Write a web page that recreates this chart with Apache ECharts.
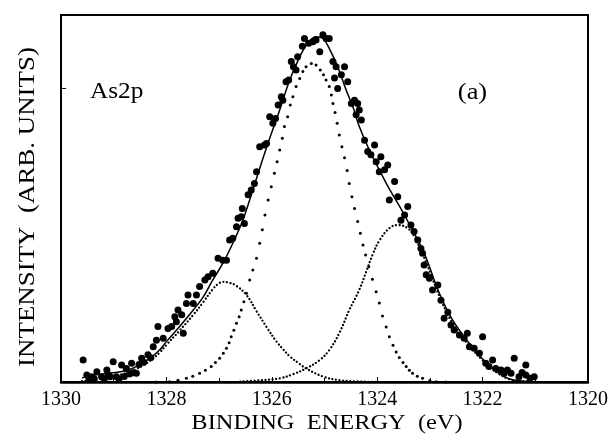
<!DOCTYPE html>
<html>
<head>
<meta charset="utf-8">
<script src="https://cdn.jsdelivr.net/npm/echarts@6/dist/echarts.min.js"></script>
<style>html,body{margin:0;padding:0;background:#fff}#c{width:611px;height:434px}</style>
</head>
<body>
<div id="c"></div>
<script>
// Binding energy axis (eV), reversed
const xTicks = [1330, 1328, 1326, 1324, 1322, 1320];
const yTickValues = [80];
const xTitle = 'BINDING  ENERGY  (eV)';
const yTitle = 'INTENSITY  (ARB. UNITS)';
const panelLabel = 'As2p';
const panelTag = '(a)';

// measured points [E, intensity]
const measuredPoints = [
[1329.58,6.0],[1329.51,1.9],[1329.47,1.0],[1329.42,1.4],[1329.37,0.9],[1329.32,2.8],[1329.23,1.4],[1329.18,0.8],
[1329.13,3.3],[1329.10,2.0],[1329.07,1.4],[1329.01,5.5],[1328.95,1.4],[1328.90,0.9],[1328.85,4.6],[1328.80,1.5],
[1328.76,3.7],[1328.70,2.2],[1328.66,5.1],[1328.64,2.5],[1328.57,2.4],[1328.52,4.8],[1328.47,6.5],[1328.43,5.4],
[1328.35,7.4],[1328.30,6.6],[1328.25,9.6],[1328.19,11.4],[1328.16,15.1],[1328.06,11.9],[1327.97,14.6],[1327.90,15.1],
[1327.84,17.8],[1327.81,16.4],[1327.78,19.6],[1327.71,18.3],[1327.68,13.3],[1327.62,21.4],[1327.59,23.7],[1327.49,21.4],
[1327.43,23.7],[1327.37,26.0],[1327.27,27.8],[1327.21,28.7],[1327.12,29.6],[1327.02,33.7],[1326.93,33.2],[1326.86,33.2],
[1326.80,38.7],[1326.74,39.2],[1326.67,42.3],[1326.64,44.6],[1326.58,45.0],[1326.56,47.3],[1326.52,43.2],[1326.45,51.0],
[1326.39,52.3],[1326.33,54.1],[1326.29,57.3],[1326.23,64.1],[1326.14,64.6],[1326.10,65.0],[1326.04,72.3],[1325.98,70.5],
[1325.93,71.8],[1325.88,75.5],[1325.82,77.7],[1325.79,76.8],[1325.73,81.8],[1325.68,82.3],[1325.63,87.3],[1325.59,85.9],
[1325.54,85.0],[1325.51,88.6],[1325.42,91.5],[1325.38,93.6],[1325.30,92.3],[1325.22,92.7],[1325.16,93.2],[1325.09,90.0],
[1325.03,94.6],[1324.97,93.6],[1324.91,93.6],[1324.84,87.3],[1324.81,82.8],[1324.78,85.9],[1324.75,80.0],[1324.68,83.7],
[1324.62,85.9],[1324.56,81.8],[1324.49,75.9],[1324.43,76.8],[1324.40,72.8],[1324.37,75.9],[1324.34,74.1],[1324.30,71.4],
[1324.24,65.9],[1324.18,62.8],[1324.12,61.9],[1324.05,64.6],[1324.02,60.0],[1323.96,57.3],[1323.93,61.4],[1323.86,57.8],
[1323.80,59.1],[1323.77,49.6],[1323.67,54.6],[1323.61,50.5],[1323.55,44.1],[1323.48,45.5],[1323.42,47.8],[1323.36,42.8],
[1323.30,41.0],[1323.23,38.7],[1323.17,36.4],[1323.14,35.1],[1323.11,31.9],[1323.07,29.2],[1323.01,28.3],[1322.95,25.1],
[1322.85,26.4],[1322.79,22.3],[1322.73,17.4],[1322.66,19.0],[1322.60,15.5],[1322.54,14.2],[1322.44,12.8],[1322.35,11.9],
[1322.29,13.3],[1322.25,9.6],[1322.16,9.2],[1322.06,7.8],[1322.00,12.3],[1321.94,5.1],[1321.88,4.2],[1321.81,6.0],
[1321.75,3.7],[1321.65,3.3],[1321.59,2.4],[1321.53,3.3],[1321.46,2.4],[1321.40,6.5],[1321.31,1.4],[1321.25,2.6],
[1321.18,4.6],[1321.18,1.9],[1321.10,1.0],[1321.02,1.4]
];

// total fit (solid line)
const fitTotal = [
[1329.6,1.1],[1329.5,1.6],[1329.2,2.2],[1328.82,2.9],[1328.57,4.2],[1328.31,6.5],[1328.13,8.7],[1328.0,11.0],
[1327.75,15.1],[1327.49,19.6],[1327.30,23.2],[1327.12,27.8],[1326.93,32.3],[1326.74,37.8],[1326.55,44.1],[1326.42,49.6],
[1326.23,58.2],[1326.04,66.4],[1325.85,74.1],[1325.66,82.3],[1325.47,88.6],[1325.32,92.3],[1325.16,94.1],[1325.03,93.6],
[1324.91,90.9],[1324.75,85.9],[1324.59,79.6],[1324.45,74.5],[1324.34,69.6],[1324.15,63.2],[1323.96,57.8],[1323.77,52.6],
[1323.58,48.0],[1323.39,43.0],[1323.17,37.0],[1323.07,33.8],[1322.82,24.2],[1322.57,16.9],[1322.25,10.5],[1322.0,6.3],
[1321.88,4.6],[1321.7,2.5],[1321.5,0.9],[1321.3,0.3],[1321.0,0.1]
];

// component near 1326.9 eV
const peakHighBE = [
[1329.6,0.2],[1329.2,1.0],[1328.82,2.2],[1328.57,3.6],[1328.31,5.8],[1328.13,8.0],[1328.0,10.1],[1327.75,14.0],
[1327.49,18.3],[1327.30,21.8],[1327.12,25.3],[1327.02,26.7],[1326.93,27.3],[1326.80,27.0],[1326.67,26.2],[1326.48,23.7],
[1326.29,19.3],[1326.10,15.0],[1325.91,11.0],[1325.79,9.0],[1325.66,7.0],[1325.47,4.9],[1325.35,3.7],[1325.03,1.5],
[1324.72,0.5],[1324.4,0.15],[1324.0,0.0]
];

// main component near 1325.25 eV (dotted)
const peakMain = [
[1328.2,0.0],[1327.94,0.1],[1327.78,0.5],[1327.62,1.0],[1327.50,1.6],[1327.37,2.4],[1327.26,3.2],[1327.15,4.2],
[1327.07,5.3],[1326.99,6.5],[1326.92,7.8],[1326.86,9.2],[1326.81,10.7],[1326.77,12.3],[1326.72,14.1],[1326.67,16.0],
[1326.62,17.8],[1326.58,19.6],[1326.53,21.9],[1326.48,24.2],[1326.42,27.8],[1326.36,30.5],[1326.29,33.7],[1326.23,37.8],
[1326.18,41.5],[1326.13,45.5],[1326.07,49.6],[1326.01,53.2],[1325.95,56.9],[1325.90,60.0],[1325.85,63.2],[1325.80,66.4],
[1325.76,69.6],[1325.70,72.3],[1325.65,75.5],[1325.60,77.7],[1325.54,80.5],[1325.47,82.7],[1325.41,84.6],[1325.35,85.9],
[1325.25,86.8],[1325.16,86.4],[1325.08,85.0],[1325.02,83.7],[1324.97,82.3],[1324.91,80.5],[1324.87,78.2],[1324.84,75.9],
[1324.80,73.4],[1324.76,70.5],[1324.72,67.3],[1324.67,64.1],[1324.62,61.1],[1324.57,57.6],[1324.53,54.1],[1324.48,50.5],
[1324.43,47.3],[1324.37,43.7],[1324.32,40.5],[1324.27,37.3],[1324.22,34.6],[1324.16,31.4],[1324.09,28.0],[1324.02,24.6],
[1323.96,21.5],[1323.90,18.0],[1323.83,15.0],[1323.77,12.3],[1323.70,10.0],[1323.64,8.2],[1323.58,6.7],[1323.51,5.3],
[1323.45,4.2],[1323.39,3.2],[1323.33,2.4],[1323.24,1.6],[1323.14,1.0],[1323.0,0.4],[1322.88,0.1],[1322.7,0.0]
];

// component near 1323.6 eV
const peakLowBE = [
[1326.6,0.1],[1326.17,0.5],[1325.85,1.0],[1325.60,2.1],[1325.35,3.7],[1325.09,6.0],[1324.91,8.7],[1324.72,13.3],
[1324.53,19.6],[1324.34,25.1],[1324.21,30.0],[1324.09,34.6],[1323.96,38.5],[1323.77,41.9],[1323.61,42.8],[1323.42,41.9],
[1323.30,39.8],[1323.17,35.8],[1323.07,32.6],[1322.82,23.4],[1322.57,16.0],[1322.25,9.8],[1322.0,5.9],[1321.88,4.2],
[1321.7,2.3],[1321.5,0.8],[1321.3,0.3],[1321.0,0.05]
];

const chart = echarts.init(document.getElementById('c'), null, {renderer: 'canvas'});
const serif = 'Liberation Serif';
const dotsLine = {color: '#000', width: 2.3, type: [0.01, 3.6], cap: 'round'};

chart.setOption({
  animation: false,
  backgroundColor: '#fff',
  grid: {left: 61, right: 22, top: 15, bottom: 52, show: true, borderColor: '#000', borderWidth: 2, backgroundColor: 'transparent'},
  xAxis: {
    type: 'value', min: 1320, max: 1330, interval: 2, inverse: true,
    axisLine: {show: true, onZero: false, lineStyle: {color: '#000', width: 2.5}},
    axisTick: {show: true, inside: true, length: 5, lineStyle: {color: '#000', width: 1}},
    minorTick: {show: true, splitNumber: 2, length: 4, lineStyle: {color: '#000', width: 1}},
    axisLabel: {color: '#000', fontFamily: serif, fontSize: 20, margin: 8, showMinLabel: true, showMaxLabel: true,
      formatter: v => xTicks.includes(v) ? String(v) : ''},
    splitLine: {show: false}
  },
  yAxis: {
    type: 'value', min: 0, max: 100, interval: 20,
    axisLine: {show: true, lineStyle: {color: '#000', width: 2}},
    axisTick: {show: true, inside: true, length: 5, customValues: yTickValues, lineStyle: {color: '#000', width: 1}},
    axisLabel: {show: false},
    splitLine: {show: false}
  },
  series: [
    {type: 'line', data: peakHighBE, smooth: 0.4, showSymbol: false, lineStyle: dotsLine, z: 2},
    {type: 'line', data: peakLowBE, smooth: 0.4, showSymbol: false, lineStyle: dotsLine, z: 2},
    {type: 'scatter', data: peakMain, symbol: 'circle', symbolSize: 3, itemStyle: {color: '#000', opacity: 1}, z: 2},
    {type: 'line', data: fitTotal, smooth: 0.4, showSymbol: false, lineStyle: {color: '#000', width: 1.5}, z: 3},
    {type: 'scatter', data: measuredPoints, symbol: 'circle', symbolSize: 7, itemStyle: {color: '#000', opacity: 1}, z: 4}
  ],
  graphic: [
    {type: 'text', x: 28, y: 207, rotation: Math.PI / 2, scaleX: 1.17,
      style: {text: yTitle, fontFamily: serif, fontSize: 23, fill: '#000', align: 'center', verticalAlign: 'middle'}},
    {type: 'text', x: 327, y: 423, scaleX: 1.11,
      style: {text: xTitle, fontFamily: serif, fontSize: 22, fill: '#000', align: 'center', verticalAlign: 'middle'}},
    {type: 'text', x: 90, y: 92, scaleX: 1.1,
      style: {text: panelLabel, fontFamily: serif, fontSize: 23, fill: '#000', align: 'left', verticalAlign: 'middle'}},
    {type: 'text', x: 472.5, y: 93, scaleX: 1.15,
      style: {text: panelTag, fontFamily: serif, fontSize: 23, fill: '#000', align: 'center', verticalAlign: 'middle'}}
  ]
});
</script>
</body>
</html>
